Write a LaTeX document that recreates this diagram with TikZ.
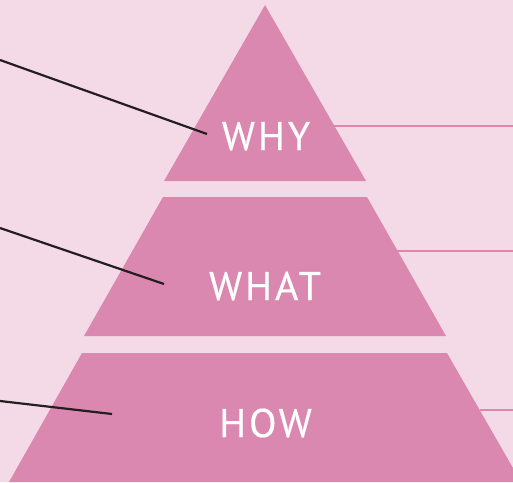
\documentclass[tikz,border=0pt]{standalone}
\usepackage{fontspec}
\setmainfont{PT Sans}
\newfontfamily\tierfont[LetterSpace=7.5,FakeBold=0.4]{PT Sans}
\usetikzlibrary{calc}
\definecolor{bgpink}{HTML}{F4DAE6}
\definecolor{tierpink}{HTML}{DB88B0}
\definecolor{leadink}{HTML}{231F20}

\begin{document}
\begin{tikzpicture}[x=1pt,y=-1pt,
		tier/.style={fill=tierpink},
		tiertext/.style={text=white,anchor=base,inner sep=0pt,font=\tierfont\fontsize{40}{40}\selectfont},
		lead/.style={draw=leadink,line width=2.2pt},
		rule/.style={draw=tierpink,line width=2pt}]
				\fill[bgpink] (0,0) rectangle (513,482);
				\useasboundingbox (0,0) rectangle (513,482);
				% tiers
				\fill[tier] (265,5) -- (366,181) -- (164,181) -- cycle;
				\fill[tier] (163,197) -- (367,197) -- (446,336) -- (84,336) -- cycle;
				\fill[tier] (82,353) -- (447,353) -- (521,482) -- (9,482) -- cycle;
				% labels
				\node[tiertext] (why) at (266,150) {WHY};
				\node[tiertext] (what) at (265,300) {WHAT};
				\node[tiertext] (how) at (265.5,437) {HOW};
				% leader lines
				\coordinate (why in) at (0,60);
				\coordinate (why end) at (207,134);
				\coordinate (what in) at (0,228);
				\coordinate (what end) at (164,284);
				\coordinate (how in) at (0,401);
				\coordinate (how end) at (112,414);
				\draw[lead] (why in) -- (why end);
				\draw[lead] (what in) -- (what end);
				\draw[lead] (how in) -- (how end);
				% right rules
				\coordinate (why edge) at (334,126);
				\coordinate (what edge) at (397,251);
				\coordinate (how edge) at (480,410);
				\draw[rule] (why edge) -- (why edge -| 513,0);
				\draw[rule] (what edge) -- (what edge -| 513,0);
				\draw[rule] (how edge) -- (how edge -| 513,0);
			\end{tikzpicture}
\end{document}
